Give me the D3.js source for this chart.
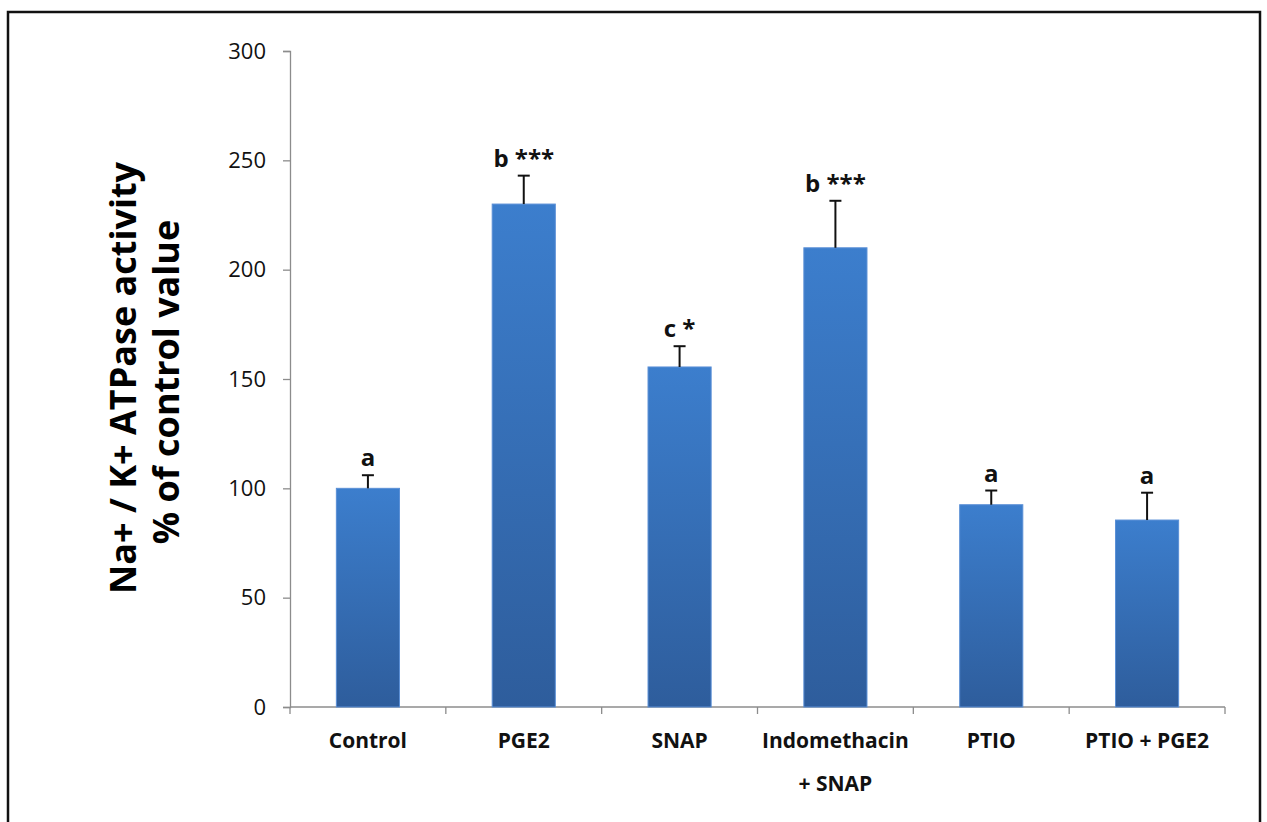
<!DOCTYPE html>
<html><head><meta charset="utf-8">
<script src="https://cdn.jsdelivr.net/npm/d3@7"></script>
<style>html,body{margin:0;padding:0;background:#fff;}</style>
</head><body>
<svg id="c" width="1267" height="822"></svg>
<script>
const categories = ["Control", "PGE2", "SNAP", "Indomethacin\n+ SNAP", "PTIO", "PTIO + PGE2"];
const values = [100, 230, 155.5, 210, 92.5, 85.5];
const errors = [6, 13, 9.5, 21.5, 6.5, 12.5];
const sigLabels = ["a", "b ***", "c *", "b ***", "a", "a"];
const yTicks = [0, 50, 100, 150, 200, 250, 300];
const yTitle = ["Na+ / K+ ATPase activity", "% of control value"];

(function () {
const svg = d3.select("#c");
const font = "'Open Sans', 'Liberation Sans', Arial, sans-serif";

// outer frame
svg.append("rect").attr("x", 8).attr("y", 12).attr("width", 1252).attr("height", 830)
  .attr("fill", "none").attr("stroke", "#111").attr("stroke-width", 2.5);

const pLeft = 290, pRight = 1225, pTop = 51, pBottom = 707;
const x = d3.scaleBand().domain(d3.range(categories.length)).range([pLeft, pRight]).padding(0);
const y = d3.scaleLinear().domain([0, 300]).range([pBottom, pTop]);

const defs = svg.append("defs");
const grad = defs.append("linearGradient").attr("id", "barg").attr("x1", 0).attr("y1", 0).attr("x2", 0).attr("y2", 1);
grad.append("stop").attr("offset", "0%").attr("stop-color", "#3c7ecd");
grad.append("stop").attr("offset", "100%").attr("stop-color", "#2e5d9c");

// y axis
const yAxis = svg.append("g").attr("transform", `translate(${pLeft},0)`)
  .call(d3.axisLeft(y).tickValues(yTicks).tickSize(7).tickPadding(17));
yAxis.select(".domain").attr("stroke", "#8c8c8c").attr("stroke-width", 1.3);
yAxis.selectAll(".tick line").attr("stroke", "#8c8c8c").attr("stroke-width", 1.3);
yAxis.selectAll(".tick text").attr("font-family", font).attr("font-size", 22).attr("fill", "#111");

// x axis
const xAxis = svg.append("g").attr("transform", `translate(0,${pBottom})`);
xAxis.append("line").attr("x1", pLeft).attr("x2", pRight).attr("stroke", "#8c8c8c").attr("stroke-width", 1.3);
xAxis.selectAll("line.tk").data(d3.range(categories.length + 1)).join("line").attr("class", "tk")
  .attr("x1", i => i < categories.length ? x(i) : x(i - 1) + x.bandwidth())
  .attr("x2", i => i < categories.length ? x(i) : x(i - 1) + x.bandwidth())
  .attr("y1", 0).attr("y2", 7).attr("stroke", "#8c8c8c").attr("stroke-width", 1.3);

const barW = x.bandwidth() * 0.405;
// bars
svg.selectAll("rect.bar").data(values).join("rect").attr("class", "bar")
  .attr("x", (d, i) => x(i) + x.bandwidth() / 2 - barW / 2)
  .attr("y", d => y(d))
  .attr("width", barW)
  .attr("height", d => y(0) - y(d))
  .attr("fill", "url(#barg)")
  .attr("stroke", "#5a8fd6").attr("stroke-width", 1);

// error bars
const eb = svg.selectAll("g.err").data(values).join("g").attr("class", "err");
eb.append("line")
  .attr("x1", (d, i) => x(i) + x.bandwidth() / 2).attr("x2", (d, i) => x(i) + x.bandwidth() / 2)
  .attr("y1", d => y(d)).attr("y2", (d, i) => y(d + errors[i]))
  .attr("stroke", "#111").attr("stroke-width", 2);
eb.append("line")
  .attr("x1", (d, i) => x(i) + x.bandwidth() / 2 - 6).attr("x2", (d, i) => x(i) + x.bandwidth() / 2 + 6)
  .attr("y1", (d, i) => y(d + errors[i])).attr("y2", (d, i) => y(d + errors[i]))
  .attr("stroke", "#111").attr("stroke-width", 2);

// significance labels
svg.selectAll("text.sig").data(values).join("text").attr("class", "sig")
  .attr("x", (d, i) => x(i) + x.bandwidth() / 2)
  .attr("y", (d, i) => y(d + errors[i]) - 9)
  .attr("text-anchor", "middle")
  .attr("font-family", font).attr("font-weight", "bold").attr("font-size", 24).attr("fill", "#111")
  .text((d, i) => sigLabels[i]);

// category labels
const cl = svg.selectAll("text.cat").data(categories).join("text").attr("class", "cat")
  .attr("x", (d, i) => x(i) + x.bandwidth() / 2)
  .attr("y", 748)
  .attr("text-anchor", "middle")
  .attr("font-family", font).attr("font-weight", "bold").attr("font-size", 21).attr("fill", "#111");
cl.each(function (d) {
  const lines = d.split("\n");
  const t = d3.select(this);
  lines.forEach((l, k) => t.append("tspan").attr("x", t.attr("x")).attr("dy", k === 0 ? 0 : 43).text(l));
});

// y title
const yt = svg.append("text").attr("transform", "translate(136,378) rotate(-90)")
  .attr("text-anchor", "middle")
  .attr("font-family", font).attr("font-weight", "bold").attr("font-size", 36).attr("fill", "#000");
yTitle.forEach((l, k) => yt.append("tspan").attr("x", k === 0 ? 0 : -4).attr("dy", k === 0 ? 0 : 43).text(l));
})();
</script>
</body></html>
